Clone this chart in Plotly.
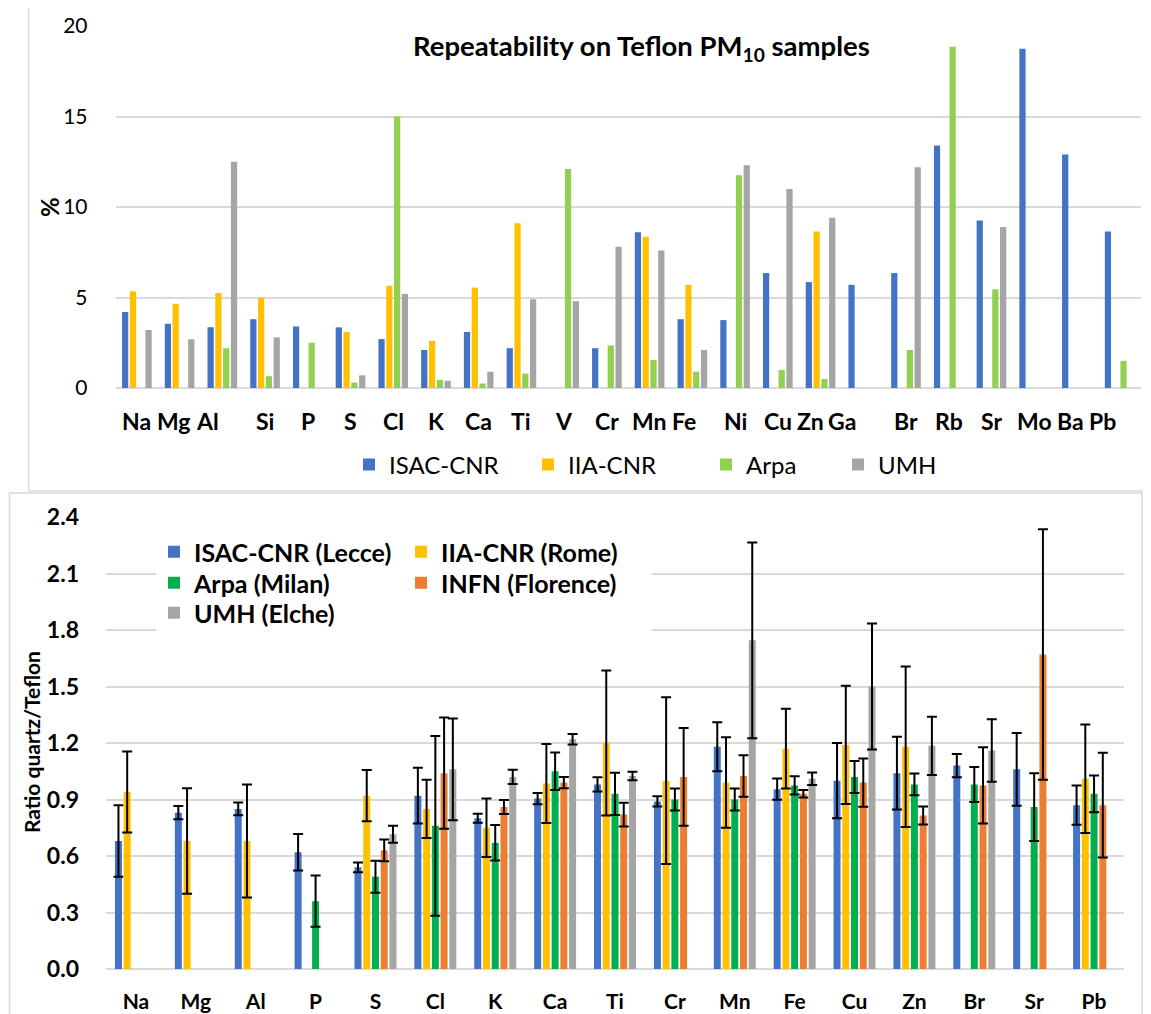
import plotly.graph_objects as go

# The page adds an 8 px body margin, so the figure is drawn 8 px in from the corner.
OFF = 8
W, H = 1151 - OFF, 1014 - OFF

# ---------------- Top chart data ----------------
top_cats = ["Na", "Mg", "Al", "Si", "P", "S", "Cl", "K", "Ca", "Ti", "V", "Cr", "Mn", "Fe",
            "Ni", "Cu", "Zn", "Ga", "Br", "Rb", "Sr", "Mo", "Ba", "Pb"]
top_isac = [4.2, 3.55, 3.35, 3.8, 3.4, 3.35, 2.7, 2.1, 3.1, 2.2, None, 2.2, 8.6, 3.8,
            3.75, 6.35, 5.85, 5.7, 6.35, 13.4, 9.25, 18.75, 12.9, 8.65]
top_iia = [5.35, 4.65, 5.25, 5.0, None, 3.1, 5.65, 2.6, 5.55, 9.1, None, None, 8.35, 5.7,
           None, None, 8.65, None, None, None, None, None, None, None]
top_arpa = [None, None, 2.2, 0.65, 2.5, 0.3, 15.0, 0.45, 0.25, 0.8, 12.1, 2.35, 1.55, 0.9,
            11.75, 1.0, 0.5, None, 2.1, 18.85, 5.45, None, None, 1.5]
top_umh = [3.2, 2.7, 12.5, 2.8, None, 0.7, 5.2, 0.4, 0.9, 4.9, 4.8, 7.8, 7.6, 2.1,
           12.3, 11.0, 9.4, None, 12.2, None, 8.9, None, None, None]
top_names = ["ISAC-CNR", "IIA-CNR", "Arpa", "UMH"]
top_ticks = [0, 5, 10, 15, 20]

# ---------------- Bottom chart data ----------------
bot_cats = ["Na", "Mg", "Al", "P", "S", "Cl", "K", "Ca", "Ti", "Cr", "Mn", "Fe", "Cu", "Zn",
            "Br", "Sr", "Pb"]
isac_val = [0.68, 0.83, 0.85, 0.62, 0.54, 0.92, 0.80, 0.905, 0.98, 0.89, 1.18, 0.955, 1.00, 1.04,
            1.08, 1.06, 0.87]
isac_err = [0.19, 0.035, 0.034, 0.097, 0.026, 0.148, 0.024, 0.03, 0.038, 0.027, 0.13, 0.056, 0.2,
            0.193, 0.062, 0.193, 0.104]
iia_val = [0.94, 0.68, 0.68, None, 0.92, 0.85, 0.75, 0.985, 1.20, 1.00, 0.99, 1.17, 1.19, 1.18,
           None, None, 1.01]
iia_err = [0.215, 0.28, 0.30, 0, 0.136, 0.155, 0.155, 0.21, 0.385, 0.443, 0.24, 0.212, 0.314, 0.426,
           0, 0, 0.288]
arpa_val = [None, None, None, 0.36, 0.49, 0.76, 0.67, 1.05, 0.93, 0.90, 0.90, 0.975, 1.02, 0.98,
            0.98, 0.86, 0.93]
arpa_err = [0, 0, 0, 0.136, 0.085, 0.477, 0.094, 0.10, 0.112, 0.058, 0.058, 0.049, 0.085, 0.058,
            0.093, 0.18, 0.098]
infn_val = [None, None, None, None, 0.63, 1.04, 0.86, 0.99, 0.82, 1.02, 1.025, 0.93, 0.99, 0.815,
            0.975, 1.67, 0.87]
infn_err = [0, 0, 0, 0, 0.058, 0.295, 0.037, 0.03, 0.063, 0.26, 0.11, 0.02, 0.128, 0.048,
            0.202, 0.665, 0.278]
umh_val = [None, None, None, None, 0.715, 1.06, 1.02, 1.22, 1.025, None, 1.745, 1.01, 1.50, 1.185,
           1.16, None, None]
umh_err = [0, 0, 0, 0, 0.045, 0.27, 0.038, 0.028, 0.023, 0, 0.52, 0.033, 0.335, 0.155,
           0.166, 0, 0]
bot_names = ["ISAC-CNR (Lecce)", "IIA-CNR (Rome)", "Arpa (Milan)", "INFN (Florence)", "UMH (Elche)"]
bot_ticks = [0.0, 0.3, 0.6, 0.9, 1.2, 1.5, 1.8, 2.1, 2.4]

# ---------------- Styles ----------------
BLUE, YELLOW, LGREEN, GRAY = "#4472C4", "#FFC000", "#92D050", "#A5A5A5"
GREEN, ORANGE = "#00B050", "#ED7D31"
GRID = "#D9D9D9"
FONT = "Lato"

# In the original some top-axis labels sit a little left of their category centre (px shift)
LABEL_SHIFT = {"Mg": -6, "Al": -15, "Fe": -8, "Zn": -10, "Ga": -21, "Ba": -6, "Pb": -17}


def px_x(p):
    return (p - OFF) / W


def px_y(p):
    return 1 - (p - OFF) / H


fig = go.Figure()

# one legend per entry of the top legend, to place each entry like the original
top_legends = ["legend", "legend5", "legend6", "legend7"]
top_legend_x = [349, 528, 706, 838]
for name, vals, col, leg in zip(top_names, [top_isac, top_iia, top_arpa, top_umh],
                                [BLUE, YELLOW, LGREEN, GRAY], top_legends):
    fig.add_trace(go.Bar(x=top_cats, y=vals, name=name, marker=dict(color=col, line=dict(width=0)),
                         xaxis="x", yaxis="y", legend=leg))

bot_series = [(isac_val, isac_err, BLUE, "legend2", 202),
              (iia_val, iia_err, YELLOW, "legend2", 200),
              (arpa_val, arpa_err, GREEN, "legend3", 202),
              (infn_val, infn_err, ORANGE, "legend3", 200),
              (umh_val, umh_err, GRAY, "legend4", 202)]
for name, (vals, errs, col, leg, lw) in zip(bot_names, bot_series):
    fig.add_trace(go.Bar(x=bot_cats, y=vals, name=name,
                         marker=dict(color=col, line=dict(width=0)),
                         error_y=dict(type="data", array=errs, visible=True, color="black",
                                      thickness=2, width=5),
                         xaxis="x2", yaxis="y2", legend=leg, legendwidth=lw))

top_leg_font = dict(family=FONT, size=24, color="black")
bot_leg_font = dict(family=FONT, size=25, color="black", weight="bold")
legend_layout = {}
for leg, lx in zip(top_legends, top_legend_x):
    legend_layout[leg] = dict(orientation="h", x=px_x(lx), y=px_y(465), xanchor="left",
                              yanchor="middle", font=top_leg_font, bgcolor="rgba(0,0,0,0)")
for leg, ly in zip(["legend2", "legend3", "legend4"], [552, 583, 613]):
    legend_layout[leg] = dict(orientation="h", x=px_x(154), y=px_y(ly), xanchor="left",
                              yanchor="middle", font=bot_leg_font, bgcolor="rgba(0,0,0,0)")

fig.update_layout(
    width=W, height=H,
    margin=dict(l=0, r=0, t=0, b=0),
    paper_bgcolor="white", plot_bgcolor="white",
    barmode="group", bargap=0.27, bargroupgap=0.2,
    font=dict(family=FONT, color="black"),
    xaxis=dict(domain=[px_x(115.5), px_x(1141)], anchor="y", type="category", automargin=False,
               categoryorder="array", categoryarray=top_cats, showticklabels=False,
               showgrid=False, showline=False, ticks=""),
    yaxis=dict(domain=[px_y(388), px_y(26)], anchor="x", range=[0, 20], tickvals=top_ticks,
               automargin=False,
               showgrid=True, gridcolor=GRID, gridwidth=1.5, zeroline=True, zerolinecolor=GRID,
               zerolinewidth=1.5, showline=False, ticks="", ticklabelstandoff=27,
               tickfont=dict(family=FONT, size=21, color="black")),
    xaxis2=dict(domain=[px_x(106), px_x(1124)], anchor="y2", type="category", automargin=False,
                tickangle=0,
                showgrid=False, showline=False, ticks="", ticklabelstandoff=18,
                tickfont=dict(family=FONT, size=21, color="black", weight="bold")),
    yaxis2=dict(domain=[px_y(969), px_y(517)], anchor="x2", range=[0, 2.4], tickvals=bot_ticks,
                tickformat=".1f", automargin=False,
                showgrid=True, gridcolor=GRID, gridwidth=1.5, zeroline=True, zerolinecolor=GRID,
                zerolinewidth=1.5, showline=False, ticks="", ticklabelstandoff=26,
                tickfont=dict(family=FONT, size=23, color="black", weight="bold")),
    showlegend=True,
    **legend_layout,
)

shapes = [
    # panel frames
    dict(type="rect", xref="paper", yref="paper", x0=px_x(28.5), x1=1.05, y0=px_y(491), y1=px_y(7),
         line=dict(color=GRID, width=1.5), fillcolor="rgba(0,0,0,0)", layer="below"),
    dict(type="rect", xref="paper", yref="paper", x0=px_x(9.5), x1=px_x(1142), y0=-0.05, y1=px_y(493),
         line=dict(color=GRID, width=1.5), fillcolor="rgba(0,0,0,0)", layer="below"),
    # white legend background in the lower chart (covers gridlines, under the bars)
    dict(type="rect", xref="x2", yref="y2", x0=0.335, x1=8.62, y0=1.78, y1=2.33,
         line=dict(width=0), fillcolor="white", layer="between"),
]
fig.update_layout(shapes=shapes)

annotations = [
    dict(text="<b>Repeatability on Teflon PM<sub>10</sub> samples</b>", xref="paper", yref="paper",
         x=px_x(641), y=px_y(48), xanchor="center", yanchor="middle", showarrow=False,
         font=dict(family=FONT, size=27.5, color="black")),
    dict(text="<b>%</b>", xref="paper", yref="paper", x=px_x(49), y=px_y(207), textangle=-90,
         xanchor="center", yanchor="middle", showarrow=False,
         font=dict(family=FONT, size=24, color="black")),
    dict(text="<b>Ratio quartz/Teflon</b>", xref="paper", yref="paper", x=px_x(31), y=px_y(742),
         textangle=-90, xanchor="center", yanchor="middle", showarrow=False,
         font=dict(family=FONT, size=21, color="black")),
]
# category labels of the top axis, placed on the category axis itself
for c in top_cats:
    annotations.append(dict(text=f"<b>{c}</b>", xref="x", yref="paper", x=c, y=px_y(421),
                            xanchor="center", yanchor="middle", xshift=LABEL_SHIFT.get(c, 0),
                            showarrow=False, font=dict(family=FONT, size=23, color="black")))
fig.update_layout(annotations=annotations)

fig.write_html("out.html")
